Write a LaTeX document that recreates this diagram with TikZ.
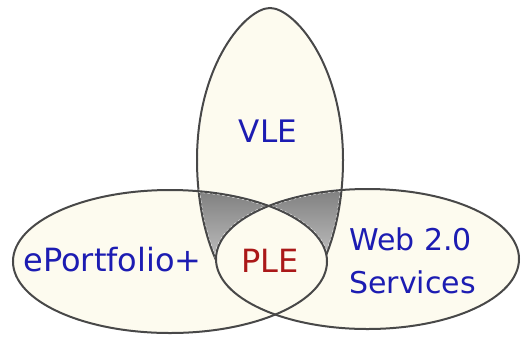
\documentclass[tikz,border=0pt]{standalone}
\usepackage{fontspec}
\setmainfont{DejaVu Sans}
\definecolor{cream}{RGB}{253,251,239}
\definecolor{shade}{RGB}{124,124,124}
\definecolor{edge}{RGB}{72,72,72}
\definecolor{lblue}{RGB}{28,28,178}
\definecolor{lred}{RGB}{170,24,24}
\newcommand{\pathE}{(170,261.5) ellipse [x radius=157, y radius=71.5]}
\newcommand{\pathW}{(367.5,259) ellipse [x radius=151.5, y radius=70]}
\newcommand{\pathV}{(270,8) .. controls (246,8) and (197,64) .. (197,160) .. controls (197,242) and (229.7,309) .. (270,309) .. controls (310.3,309) and (343,242) .. (343,160) .. controls (343,64) and (294,8) .. (270,8) -- cycle}
\newcommand{\upperhalf}{(-5,-5) rectangle (530,261)}
\tikzset{
  outline/.style={draw=edge, line width=2pt},
  halo/.style={draw=white, line width=3pt, dash pattern=on 2.5pt off 2.5pt},
  lbl/.style={inner sep=0pt, text=lblue}
}
\begin{document}
\begin{tikzpicture}[x=1pt,y=-1pt]
\useasboundingbox (0,0) rectangle (521,338);
% cream fills
\fill[cream] \pathE;
\fill[cream] \pathW;
\begin{scope}
  \clip \upperhalf;
  \fill[cream] \pathV;
\end{scope}
% gray regions: VLE inside ePortfolio or Web
\begin{scope}
  \clip \upperhalf;
  \clip \pathV;
  \fill[shade] \pathE;
  \fill[shade] \pathW;
  \path[halo] \pathV;
\end{scope}
% VLE outline
\begin{scope}
  \clip \upperhalf;
  \path[outline] \pathV;
\end{scope}
% PLE lens
\begin{scope}
  \clip \pathE;
  \fill[cream] \pathW;
\end{scope}
% white dashed edging of gray regions
\begin{scope}
  \clip \upperhalf;
  \clip \pathV;
  \path[halo] \pathE;
  \path[halo] \pathW;
\end{scope}
% outlines
\path[outline] \pathE;
\path[outline] \pathW;
% labels
\node[lbl, font=\fontsize{31}{31}\selectfont, anchor=base] (vle) at (268,142) {VLE};
\node[lbl, font=\fontsize{32}{32}\selectfont, anchor=base] (eport) at (112.5,271) {ePortfolio+};
\node[lbl, font=\fontsize{32}{32}\selectfont, anchor=base, text=lred] (ple) at (270,272) {PLE};
\node[lbl, font=\fontsize{30}{43}\selectfont, anchor=base west, align=left] (web) at (349,293) {Web 2.0\\Services};
\end{tikzpicture}
\end{document}
